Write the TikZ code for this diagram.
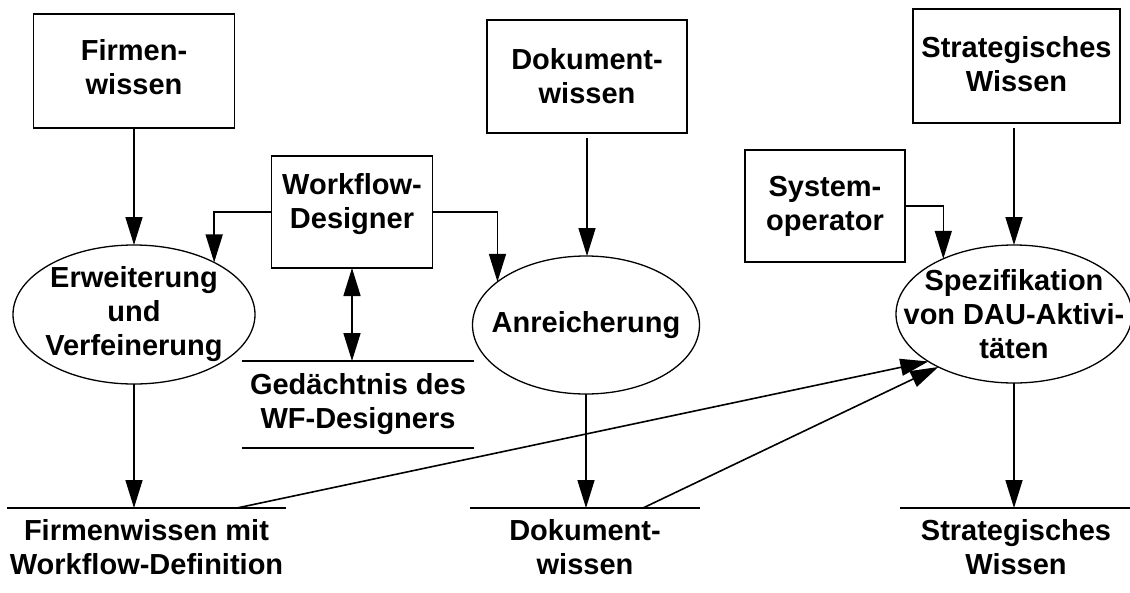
\documentclass[tikz,border=0pt]{standalone}
\usepackage{fontspec}
\setmainfont{Liberation Sans}
\usetikzlibrary{arrows.meta,shapes.geometric,calc}
\begin{document}
\begin{tikzpicture}[x=1pt,y=-1pt,
  every node/.style={font=\fontsize{29}{34}\selectfont\bfseries, align=center},
  box/.style={draw, line width=1.6pt, inner sep=0pt, outer sep=0pt},
  oval/.style={draw, ellipse, line width=1.3pt, inner sep=0pt, outer sep=0pt},
  store/.style={inner xsep=0pt, inner ysep=11pt, outer sep=0pt},
  rule/.style={line width=1.6pt},
  arr/.style={line width=1.6pt, -{Triangle[length=28pt,width=17pt]}},
  dblarr/.style={line width=1.6pt, {Triangle[length=28pt,width=17pt]}-{Triangle[length=28pt,width=17pt]}}]
\useasboundingbox (0,0) rectangle (1130,592);

% source boxes
\node[box, minimum width=201pt, minimum height=114pt,
      label={[yshift=4pt]center:Firmen-\\wissen}] (firm) at (134,71) {};
\node[box, minimum width=161pt, minimum height=112pt,
      label={[yshift=8pt]center:Workflow-\\Designer}] (wf) at (352,212) {};
\node[box, minimum width=200pt, minimum height=113pt] (dok) at (587,76.5) {Dokument-\\wissen};
\node[box, minimum width=207pt, minimum height=114pt,
      label={[yshift=2pt]center:Strategisches\\Wissen}] (strat) at (1016.5,66) {};
\node[box, minimum width=160pt, minimum height=112pt] (sys) at (825,206) {System-\\operator};

% processes
\node[oval, minimum width=242pt, minimum height=139pt,
      label={center:Erweiterung\\und\\Verfeinerung}] (erw) at (134,314.5) {};
\node[oval, minimum width=227pt, minimum height=138pt,
      label={center:Anreicherung}] (anre) at (586,325) {};
\node[oval, minimum width=236pt, minimum height=138pt,
      label={center:Spezifikation\\von DAU-Aktivi-\\täten}] (spez) at (1014,314) {};

% stores
\node[store, minimum width=232pt, minimum height=87pt] (mem) at (358,404.5) {Gedächtnis des\\WF-Designers};
\draw[rule] (mem.north west) -- (mem.north east);
\draw[rule] (mem.south west) -- (mem.south east);
\node[store, anchor=north, minimum width=279pt] (fwd) at (146.5,508) {Firmenwissen mit\\Workflow-Definition};
\draw[rule] (fwd.north west) -- (fwd.north east);
\node[store, anchor=north, minimum width=230pt] (dks) at (585,508) {Dokument-\\wissen};
\draw[rule] (dks.north west) -- (dks.north east);
\node[store, anchor=north, minimum width=232pt] (sws) at (1016,508) {Strategisches\\Wissen};
\draw[rule] (sws.north west) -- (sws.north east);

% connectors
\draw[arr] (firm) -- (firm |- erw.north);
\draw[arr] (wf.west) -| (erw.33.7);
\draw[arr] (wf.east) -| (anre.154.7);
\draw[dblarr] (wf.south) -- (wf.south |- mem.north);
\draw[arr, shorten <=5pt] (dok) -- (dok |- anre.north);
\draw[arr] (sys.east) -| (spez.142.2);
\draw[arr, shorten <=5pt] (strat.south -| spez.north) -- (spez.north);
\draw[arr] (erw.south) -- (erw.south |- fwd.north);
\draw[arr] (anre.south) -- (anre.south |- dks.north);
\draw[arr] (spez.south) -- (spez.south |- sws.north);
\coordinate (f1) at ($(fwd.north west)!0.824!(fwd.north east)$);
\coordinate (d1) at ($(dks.north west)!0.752!(dks.north east)$);
\draw[arr] (f1) -- (spez.209);
\draw[arr] (d1) -- (spez.215);
\end{tikzpicture}
\end{document}
